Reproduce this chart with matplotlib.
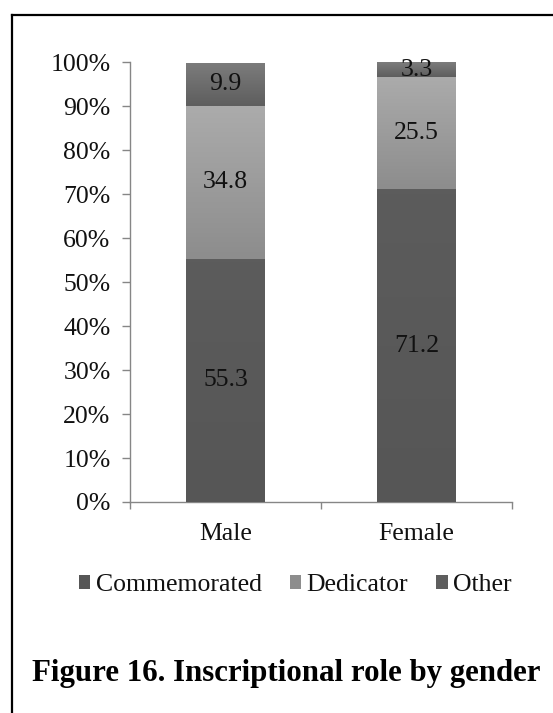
import numpy as np
import matplotlib
matplotlib.use("Agg")
import matplotlib.pyplot as plt
from matplotlib.colors import LinearSegmentedColormap
from matplotlib.lines import Line2D
from matplotlib.patches import Patch

plt.rcParams['font.family'] = ['Liberation Serif', 'DejaVu Serif']

# data
genders = ["Male", "Female"]
roles = ["Commemorated", "Dedicator", "Other"]
commemorated = [55.3, 71.2]
dedicator = [34.8, 25.5]
other = [9.9, 3.3]
yticks = [0, 10, 20, 30, 40, 50, 60, 70, 80, 90, 100]

# top / bottom shade of each segment (light gradient like the original)
shades = {
    "Commemorated": ("#5c5c5c", "#565656"),
    "Dedicator": ("#ababab", "#8d8d8d"),
    "Other": ("#7c7c7c", "#5e5e5e"),
}
fs = 18.5

fig = plt.figure(figsize=(5.53, 7.13), dpi=100)
ax = fig.add_axes([130 / 553, 1 - 502 / 713, 382 / 553, 439.5 / 713])

x = np.arange(len(genders))
width = 0.41
bottom = np.zeros(len(genders))
for role, vals in zip(roles, [commemorated, dedicator, other]):
    top_c, bot_c = shades[role]
    bars = ax.bar(x, vals, width, bottom=bottom, color=bot_c, edgecolor="none", zorder=2)
    cmap = LinearSegmentedColormap.from_list(role, [bot_c, top_c])
    grad = np.linspace(0, 1, 64).reshape(-1, 1)
    for b in bars:
        bx, by = b.get_x(), b.get_y()
        im = ax.imshow(grad, cmap=cmap, origin="lower", aspect="auto", zorder=3,
                       extent=[bx, bx + b.get_width(), by, by + b.get_height()])
        im.set_clip_path(b)
    for xi, v, b0 in zip(x, vals, bottom):
        ax.text(xi, b0 + v / 2, f"{v:.1f}", ha="center", va="center",
                fontsize=fs, color="#111111", zorder=4)
    bottom += np.array(vals)

ax.set_xlim(-0.5, 1.47)
ax.set_ylim(0, 100)
ax.set_yticks(yticks)
ax.set_yticklabels([f"{t}%" for t in yticks])
ax.set_xticks([-0.5, 0.5, 1.5])
ax.set_xticklabels([])
ax.set_xticks(x, minor=True)
ax.set_xticklabels(genders, minor=True)
ax.tick_params(axis="x", which="minor", length=0, pad=15, labelsize=fs, labelcolor="#111111")
ax.tick_params(axis="x", which="major", length=5, color="#868686", width=1)
ax.tick_params(axis="y", length=6, color="#868686", width=1, labelsize=fs,
               labelcolor="#111111", pad=8)
for s in ["top", "right"]:
    ax.spines[s].set_visible(False)
for s in ["left", "bottom"]:
    ax.spines[s].set_color("#868686")
    ax.spines[s].set_linewidth(1)

handles = [Patch(facecolor=shades[r][1], edgecolor="none") for r in roles]
fig.legend(handles, roles, loc="center", bbox_to_anchor=(0.534, 1 - 585 / 713), ncol=3,
           frameon=False, fontsize=fs, handlelength=0.45, handleheight=0.45,
           handletextpad=0.2, columnspacing=1.1, labelcolor="#111111")

fig.text(286 / 553, 1 - 673 / 713, "Figure 16. Inscriptional role by gender",
         ha="center", va="center", fontsize=22.2, fontweight="bold")

# page frame (left and top edges only are visible)
fx = 11.7 / 553
fy = 1 - 15 / 713
fig.add_artist(Line2D([fx, fx], [0, fy], transform=fig.transFigure, color="black", lw=1.6))
fig.add_artist(Line2D([fx, 1], [fy, fy], transform=fig.transFigure, color="black", lw=1.6))

fig.savefig("out.png", dpi=100)
